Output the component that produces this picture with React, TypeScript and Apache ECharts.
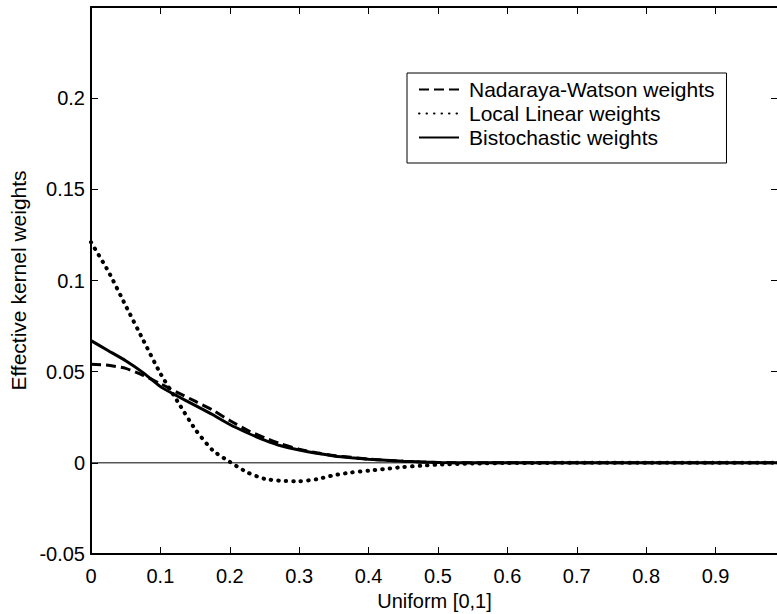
import React, { useEffect, useRef } from "react";
import * as echarts from "echarts";

const xValues = [0, 0.025, 0.05, 0.075, 0.1, 0.125, 0.15, 0.175, 0.2, 0.225, 0.25, 0.275, 0.3, 0.325, 0.35, 0.375, 0.4, 0.425, 0.45, 0.475, 0.5, 0.55, 0.6, 0.7, 0.8, 0.9, 0.99];

const nadarayaWatson = [0.054, 0.0535, 0.0518, 0.048, 0.0434, 0.0385, 0.0338, 0.029, 0.0232, 0.018, 0.0138, 0.0102, 0.0075, 0.0055, 0.004, 0.003, 0.002, 0.0015, 0.0009, 0.0005, 0.0002, 0, 0, 0, 0, 0, 0];

const localLinear = [0.121, 0.105, 0.0862, 0.0675, 0.049, 0.0335, 0.0185, 0.007, 0.0005, -0.0052, -0.0088, -0.0099, -0.0101, -0.009, -0.0068, -0.0053, -0.0043, -0.0033, -0.0023, -0.0016, -0.001, -0.0004, -0.0001, 0, 0, 0, 0];

const bistochastic = [0.067, 0.0615, 0.056, 0.0495, 0.0418, 0.0365, 0.0315, 0.0265, 0.021, 0.0165, 0.0125, 0.0092, 0.007, 0.0052, 0.0038, 0.0028, 0.002, 0.0014, 0.0009, 0.0005, 0.0002, 0, 0, 0, 0, 0, 0];

const zeroLineX = [0, 0.99];
const zeroLineY = [0, 0];

const seriesNames = ["Nadaraya-Watson weights", "Local Linear weights", "Bistochastic weights"];
const xTickLabels = ["0", "0.1", "0.2", "0.3", "0.4", "0.5", "0.6", "0.7", "0.8", "0.9"];
const yTickLabels = ["-0.05", "0", "0.05", "0.1", "0.15", "0.2"];

const FONT = "'Liberation Sans', Arial, Helvetica, sans-serif";

const pairs = (xs: number[], ys: number[]) => xs.map((x, i) => [x, ys[i]]);
const fmt = (labels: string[], digits: number) => (v: number) => {
  const s = String(Math.round(v * Math.pow(10, digits)) / Math.pow(10, digits));
  return labels.indexOf(s) >= 0 ? s : "";
};

export default function App() {
  const ref = useRef<HTMLDivElement>(null);
  useEffect(() => {
    if (!ref.current) return;
    const chart = echarts.init(ref.current, undefined, { renderer: "svg" });
    const axisLine = { show: true, onZero: false, lineStyle: { color: "#000", width: 2 } };
    const tickStyle = { show: true, inside: true, length: 7, lineStyle: { color: "#000", width: 1 } };
    chart.setOption({
      animation: false,
      backgroundColor: "#fff",
      textStyle: { fontFamily: FONT },
      grid: { left: 91, top: 7, right: 12, bottom: 60, containLabel: false, outerBoundsMode: "none" },
      legend: {
        data: seriesNames,
        orient: "vertical",
        left: 407,
        top: 73,
        itemWidth: 40,
        itemHeight: 14,
        itemGap: 3,
        padding: [6, 12, 15, 11],
        borderColor: "#000",
        borderWidth: 1,
        backgroundColor: "#fff",
        itemStyle: { opacity: 0 },
        textStyle: { fontFamily: FONT, fontSize: 21, color: "#000", padding: [0, 0, 0, 5] },
      },
      xAxis: [
        {
          type: "value",
          min: 0,
          max: 0.99,
          interval: 0.1,
          name: "Uniform [0,1]",
          nameLocation: "middle",
          nameGap: 32,
          nameTextStyle: { fontFamily: FONT, fontSize: 20, color: "#000" },
          axisLine,
          axisTick: tickStyle,
          splitLine: { show: false },
          axisLabel: { fontFamily: FONT, fontSize: 20, color: "#000", margin: 12, formatter: fmt(xTickLabels, 1) },
        },
        {
          type: "value",
          position: "top",
          min: 0,
          max: 0.99,
          interval: 0.1,
          axisLine,
          axisTick: tickStyle,
          splitLine: { show: false },
          axisLabel: { show: false },
        },
      ],
      yAxis: [
        {
          type: "value",
          min: -0.05,
          max: 0.25,
          interval: 0.05,
          name: "Effective kernel weights",
          nameLocation: "middle",
          nameGap: 60,
          nameTextStyle: { fontFamily: FONT, fontSize: 21, color: "#000" },
          axisLine,
          axisTick: tickStyle,
          splitLine: { show: false },
          axisLabel: { fontFamily: FONT, fontSize: 20, color: "#000", margin: 6, formatter: fmt(yTickLabels, 2) },
        },
        {
          type: "value",
          position: "right",
          min: -0.05,
          max: 0.25,
          interval: 0.05,
          axisLine,
          axisTick: tickStyle,
          splitLine: { show: false },
          axisLabel: { show: false },
        },
      ],
      series: [
        {
          name: "zero",
          type: "line",
          data: pairs(zeroLineX, zeroLineY),
          symbol: "none",
          silent: true,
          lineStyle: { color: "#000", width: 1 },
          z: 1,
        },
        {
          name: seriesNames[0],
          type: "line",
          data: pairs(xValues, nadarayaWatson),
          symbol: "none",
          smooth: 0.2,
          color: "#000",
          lineStyle: { color: "#000", width: 3, type: [10, 5] },
          z: 3,
        },
        {
          name: seriesNames[1],
          type: "line",
          data: pairs(xValues, localLinear),
          symbol: "none",
          smooth: 0.2,
          color: "#000",
          lineStyle: { color: "#000", width: 4, type: [0.5, 7], cap: "round" },
          z: 3,
        },
        {
          name: seriesNames[2],
          type: "line",
          data: pairs(xValues, bistochastic),
          symbol: "none",
          smooth: 0.2,
          color: "#000",
          lineStyle: { color: "#000", width: 3 },
          z: 3,
        },
      ],
    });
    return () => chart.dispose();
  }, []);
  return (
    <div style={{ position: "fixed", left: 0, top: 0, width: 777, height: 614, overflow: "hidden", background: "#fff" }}>
      <div ref={ref} style={{ width: 790, height: 614 }} />
    </div>
  );
}
